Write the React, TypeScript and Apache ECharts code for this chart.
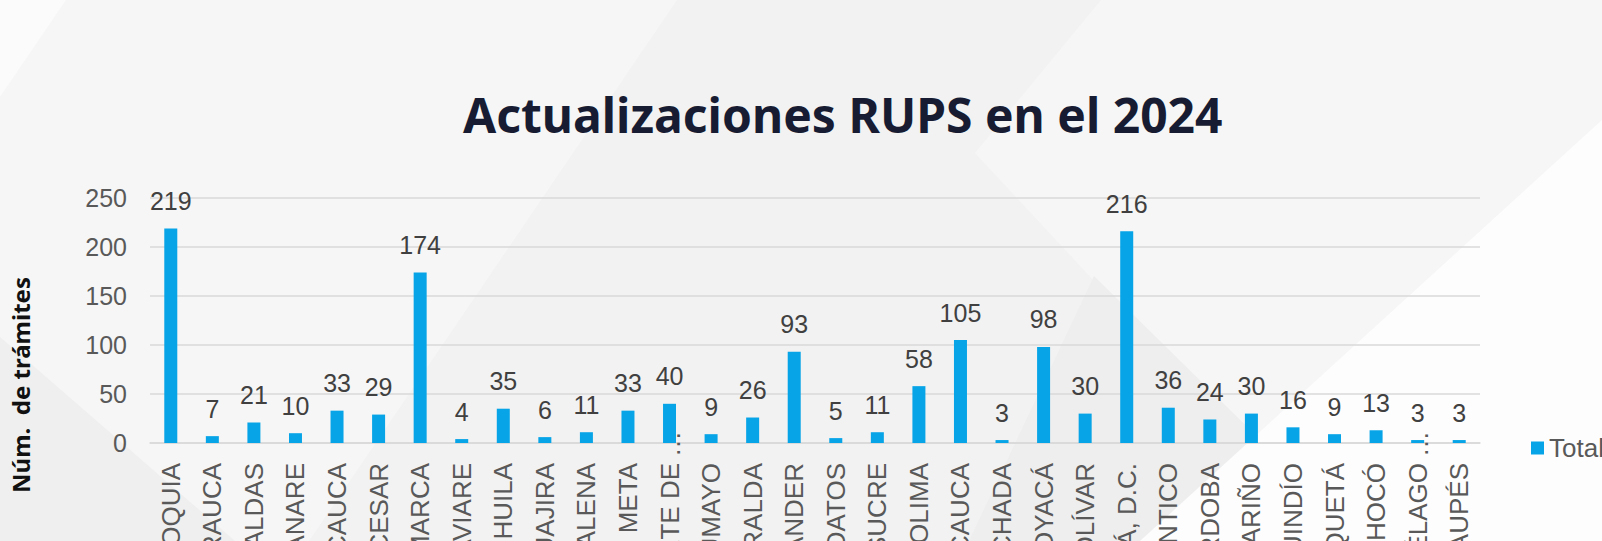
import React, { useEffect, useRef } from "react";
import * as echarts from "echarts";

const categories = [
  "ANTIOQUIA", "ARAUCA", "CALDAS", "CASANARE", "CAUCA", "CESAR", "CUNDINAMARCA",
  "GUAVIARE", "HUILA", "LA GUAJIRA", "MAGDALENA", "META", "NORTE DE…", "PUTUMAYO",
  "RISARALDA", "SANTANDER", "SIN DATOS", "SUCRE", "TOLIMA", "VALLE DEL CAUCA",
  "VICHADA", "BOYACÁ", "BOLÍVAR", "BOGOTÁ, D.C.", "ATLÁNTICO", "CÓRDOBA", "NARIÑO",
  "QUINDÍO", "CAQUETÁ", "CHOCÓ", "ARCHIPIÉLAGO…", "VAUPÉS",
];
const totals = [
  219, 7, 21, 10, 33, 29, 174, 4, 35, 6, 11, 33, 40, 9, 26, 93, 5, 11, 58, 105, 3,
  98, 30, 216, 36, 24, 30, 16, 9, 13, 3, 3,
];
const yTicks = { min: 0, max: 250, interval: 50 };
const titleText = "Actualizaciones RUPS en el 2024";
const yAxisTitle = "Núm.  de trámites";
const seriesName = "Total";
const ELLIPSIS = "…";

export default function App() {
  const ref = useRef<HTMLDivElement>(null);
  useEffect(() => {
    if (!ref.current) return;
    const chart = echarts.init(ref.current, null, { renderer: "svg" });
    const bg = (id: string, points: number[][], fill: string) => ({
      id,
      type: "polygon",
      z: -100,
      silent: true,
      shape: { points },
      style: { fill },
    });
    const font = "'Liberation Sans', Arial, sans-serif";
    const baseGraphics: any[] = [
      bg("bg1", [[0, 0], [66, 0], [0, 97]], "#fbfbfb"),
      bg("bg2", [[677, 0], [1101, 0], [975, 153], [1336, 541], [309, 541]], "#f2f2f2"),
      bg("bg3", [[1094, 276], [1363, 541], [969, 541]], "#eeeeee"),
      bg("bg4", [[0, 337], [235, 541], [0, 541]], "#efefef"),
      bg("bg5", [[1602, 120], [1602, 541], [1140, 541]], "#fdfdfd"),
      {
        id: "title",
        type: "text",
        x: 463,
        y: 114,
        style: {
          text: titleText,
          font: "bold 48px 'Noto Sans', sans-serif",
          fill: "#171c33",
          align: "left",
          verticalAlign: "middle",
        },
      },
      {
        id: "ytitle",
        type: "text",
        x: 20,
        y: 385,
        rotation: Math.PI / 2,
        style: {
          text: yAxisTitle,
          font: "bold 24px 'Noto Sans', sans-serif",
          fill: "#111111",
          align: "center",
          verticalAlign: "middle",
        },
      },
    ];
    chart.setOption({
      animation: false,
      backgroundColor: "#f6f6f6",
      graphic: { elements: baseGraphics },
      legend: {
        data: [seriesName],
        left: 1526,
        top: 430,
        icon: "rect",
        itemWidth: 13,
        itemHeight: 13,
        itemGap: 8,
        textStyle: { fontFamily: font, fontSize: 26, color: "#595959" },
      },
      grid: {
        left: 150,
        right: 122,
        top: 198,
        bottom: 98,
        containLabel: false,
        outerBoundsMode: "none",
      },
      xAxis: {
        type: "category",
        data: categories,
        axisLine: { show: true, lineStyle: { color: "#d9d9d9", width: 1.5 } },
        axisTick: { show: false },
        axisLabel: {
          interval: 0,
          rotate: 90,
          margin: 20,
          hideOverlap: false,
          fontFamily: font,
          fontSize: 26,
          color: "#595959",
          formatter: (v: string) =>
            v.endsWith(ELLIPSIS) ? v.slice(0, -1) : v,
        },
      },
      yAxis: {
        type: "value",
        min: yTicks.min,
        max: yTicks.max,
        interval: yTicks.interval,
        axisLine: { show: false },
        axisTick: { show: false },
        splitLine: { lineStyle: { color: "#d9d9d9", width: 1.5 } },
        axisLabel: {
          margin: 23,
          showMaxLabel: true,
          showMinLabel: true,
          fontFamily: font,
          fontSize: 25,
          color: "#595959",
        },
      },
      series: [
        {
          name: seriesName,
          type: "bar",
          data: totals,
          barWidth: 13,
          itemStyle: { color: "#07a4e7" },
          label: {
            show: true,
            position: "top",
            distance: 15,
            fontFamily: font,
            fontSize: 25,
            color: "#404040",
          },
        },
      ],
    });
    // Excel-style truncation marks that overhang the axis line
    const axisY = chart.convertToPixel({ yAxisIndex: 0 }, 0) as number;
    const marks: any[] = [];
    categories.forEach((c, i) => {
      if (!c.endsWith(ELLIPSIS)) return;
      const x = chart.convertToPixel({ xAxisIndex: 0 }, i) as number;
      marks.push({
        id: "ell" + i,
        type: "text",
        x: x + 1,
        y: axisY - 12,
        rotation: Math.PI / 2,
        z: 10,
        style: {
          text: ELLIPSIS,
          font: "26px 'Liberation Sans', Arial, sans-serif",
          fill: "#595959",
          align: "right",
          verticalAlign: "middle",
        },
      });
    });
    chart.setOption({ graphic: { elements: [...baseGraphics, ...marks] } });
    return () => chart.dispose();
  }, []);
  return (
    <div
      ref={ref}
      style={{ position: "fixed", left: 0, top: 0, width: 1602, height: 541 }}
    />
  );
}
